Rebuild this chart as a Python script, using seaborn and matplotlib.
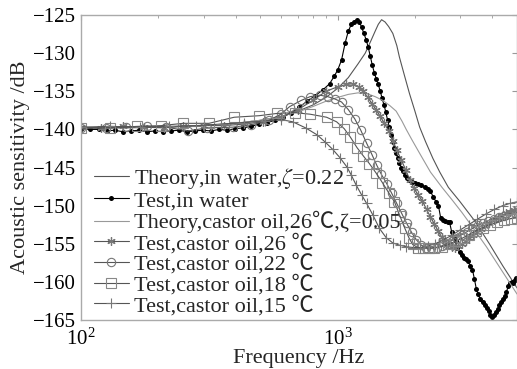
import numpy as np
import pandas as pd
import matplotlib
matplotlib.use("Agg")
import matplotlib.pyplot as plt
import seaborn as sns

# theory, in water
f_th_water = [100, 150, 200, 300, 400, 500, 600, 700, 800, 900, 1000, 1100, 1200, 1280,
              1350, 1400, 1440, 1483, 1530, 1580, 1640, 1700, 1740, 1820, 1905, 2000, 2087,
              2200, 2350, 2500, 2700, 2985, 3420, 3900, 4400, 5000]
db_th_water = [-139.8, -139.8, -139.7, -139.5, -139.2, -138.8, -138.3, -137.6, -136.8, -135.8,
               -134.6, -133.2, -131.4, -130.0, -128.3, -127.1, -126.2, -125.6, -125.9, -126.5,
               -127.4, -129.0, -130.5, -132.9, -135.3, -137.6, -139.7, -141.6, -143.8, -145.6,
               -147.6, -149.4, -152.0, -155.0, -157.9, -160.8]

# test, in water
f_te_water = [100, 108, 117, 126, 135, 145, 156, 168, 180, 194, 208, 224, 240, 258, 278, 298,
              320, 345, 370, 398, 428, 460, 495, 530, 570, 612, 658, 707, 760, 815, 876, 930,
              970, 1000, 1035, 1070, 1100, 1130, 1160, 1190, 1215, 1240, 1265, 1290, 1315,
              1340, 1365, 1390, 1415, 1440, 1465, 1490, 1515, 1540, 1565, 1590, 1615, 1640,
              1665, 1690, 1715, 1740, 1770, 1800, 1830, 1860, 1900, 1950, 2000, 2060, 2120,
              2180, 2240, 2300, 2360, 2420, 2470, 2520, 2570, 2620, 2680, 2730, 2780, 2830,
              2880, 2930, 2985, 3040, 3100, 3160, 3220, 3290, 3352, 3410, 3474, 3530, 3600,
              3670, 3740, 3810, 3880, 3940, 3990, 4060, 4130, 4200, 4270, 4340, 4410, 4480,
              4550, 4620, 4690, 4760, 4830, 4900, 4970]
db_te_water = [-139.9, -140.0, -140.0, -140.2, -140.1, -140.3, -140.2, -140.1, -140.3, -140.2,
               -140.3, -140.2, -140.1, -140.3, -140.2, -140.1, -140.2, -140.0, -140.1, -139.9,
               -139.8, -139.6, -139.3, -139.1, -138.8, -138.4, -137.8, -137.1, -136.3, -135.6,
               -134.8, -134.0, -133.0, -132.2, -130.9, -128.6, -127.1, -126.2, -125.9, -125.7,
               -125.9, -126.6, -127.4, -128.2, -129.2, -130.4, -131.6, -132.6, -133.4, -134.1,
               -135.0, -135.9, -136.8, -137.7, -138.8, -139.7, -140.7, -141.6, -142.4, -143.1,
               -143.8, -144.4, -145.0, -145.5, -146.0, -146.4, -146.7, -146.9, -147.0, -147.1,
               -147.3, -147.5, -147.8, -148.1, -148.9, -149.5, -150.0, -151.6, -151.9, -152.0,
               -152.1, -152.2, -153.4, -154.1, -154.6, -155.5, -156.1, -156.5, -156.9, -157.0,
               -157.3, -157.9, -158.4, -159.6, -161.0, -161.6, -162.3, -162.7, -163.0, -163.4,
               -163.8, -164.3, -164.6, -164.4, -164.0, -163.6, -163.1, -162.7, -162.3, -161.9,
               -161.3, -160.6, -160.1, -160.0, -160.1, -159.8, -159.5]

# theory, castor oil 26 C
f_th_oil = [100, 200, 300, 400, 500, 600, 700, 800, 900, 1000, 1100, 1200, 1300, 1400, 1500,
            1600, 1690, 1780, 1850, 1950, 2100, 2300, 2550, 2800, 3050, 3352, 3800, 4300, 5000]
db_th_oil = [-139.8, -139.7, -139.5, -139.2, -138.8, -138.3, -137.7, -137.0, -136.3, -135.8,
             -135.4, -135.2, -135.3, -135.7, -136.2, -136.9, -137.6, -138.9, -140.0, -141.4,
             -143.3, -145.6, -147.6, -149.3, -150.9, -152.8, -155.4, -158.2, -161.6]

# test, castor oil 26 C
f_oil26 = [100, 120, 145, 175, 210, 250, 300, 360, 430, 510, 600, 700, 800, 900, 1000, 1080,
           1150, 1210, 1260, 1310, 1360, 1410, 1460, 1520, 1580, 1640, 1700, 1770, 1840, 1910,
           1980, 2060, 2140, 2220, 2300, 2380, 2460, 2540, 2620, 2700, 2780, 2860, 2950, 3050,
           3150, 3260, 3380, 3500, 3630, 3760, 3900, 4050, 4200, 4360, 4530, 4700, 4870, 5000]
db_oil26 = [-139.7, -139.8, -139.6, -139.7, -139.8, -139.6, -139.5, -139.5, -139.3, -139.0,
            -138.4, -137.4, -136.2, -135.0, -134.4, -134.1, -134.0, -134.4, -135.0, -135.8,
            -136.6, -137.4, -138.2, -139.2, -140.2, -141.5, -142.7, -144.0, -145.3, -146.6,
            -147.7, -148.6, -149.4, -150.5, -151.5, -152.4, -153.3, -154.1, -154.7, -155.1,
            -155.4, -155.5, -155.3, -155.0, -154.7, -154.3, -153.9, -153.5, -153.1, -152.7,
            -152.3, -151.9, -151.6, -151.3, -151.0, -150.8, -150.6, -150.5]

# test, castor oil 22 C
f_oil22 = [100, 125, 150, 180, 215, 260, 310, 390, 460, 540, 600, 650, 720, 780, 850, 915,
           975, 1035, 1100, 1165, 1230, 1296, 1360, 1420, 1480, 1552, 1625, 1698, 1775, 1855,
           1940, 2028, 2120, 2218, 2320, 2430, 2540, 2660, 2780, 2910, 3050, 3200, 3350, 3510,
           3680, 3860, 4050, 4250, 4460, 4680, 4900, 5000]
db_oil22 = [-139.8, -139.8, -139.7, -139.6, -139.7, -140.2, -139.8, -139.7, -139.4, -138.8,
            -138.0, -137.0, -136.2, -135.7, -135.5, -135.7, -136.0, -136.4, -137.4, -138.6,
            -140.1, -141.8, -143.3, -144.7, -145.9, -147.1, -148.4, -149.7, -151.0, -152.3,
            -153.5, -154.5, -155.2, -155.5, -155.6, -155.5, -155.3, -155.0, -154.6, -154.2,
            -153.8, -153.4, -153.0, -152.6, -152.3, -152.0, -151.7, -151.5, -151.3, -151.1,
            -151.0, -150.9]

# test, castor oil 18 C
f_oil18 = [100, 130, 165, 205, 250, 315, 395, 494, 580, 680, 780, 905, 990, 1060, 1120, 1190,
           1260, 1330, 1410, 1495, 1580, 1665, 1745, 1823, 1900, 1960, 2050, 2150, 2260, 2380,
           2540, 2700, 2870, 3050, 3250, 3460, 3680, 3920, 4170, 4440, 4720, 5000]
db_oil18 = [-139.8, -139.8, -139.6, -139.5, -139.2, -139.2, -138.4, -138.2, -137.9, -137.8,
            -138.0, -138.4, -139.0, -139.9, -141.0, -142.4, -143.5, -144.5, -145.7, -147.0,
            -148.3, -149.5, -151.3, -152.9, -154.3, -155.1, -155.5, -155.6, -155.6, -155.5,
            -155.4, -155.1, -154.7, -154.3, -153.8, -153.3, -152.9, -152.5, -152.2, -151.9,
            -151.7, -151.6]

# test, castor oil 15 C
f_oil15 = [100, 130, 170, 220, 280, 350, 430, 520, 600, 668, 750, 830, 890, 955, 1020, 1085,
           1130, 1180, 1240, 1296, 1370, 1455, 1545, 1640, 1745, 1850, 1970, 2100, 2240, 2400,
           2580, 2780, 3000, 3240, 3500, 3780, 4080, 4400, 4700, 5000]
db_oil15 = [-139.7, -139.6, -139.7, -139.6, -139.5, -139.3, -139.1, -138.9, -138.7, -139.0,
            -139.8, -140.7, -141.6, -142.6, -143.7, -144.9, -146.0, -147.3, -148.6, -149.7,
            -151.2, -153.0, -154.2, -154.9, -155.2, -155.4, -155.5, -155.5, -155.3, -155.0,
            -154.5, -153.9, -153.2, -152.5, -151.8, -151.1, -150.5, -150.0, -149.7, -149.5]

labels = ["Theory,in water,$\\zeta$=0.22",
          "Test,in water",
          "Theory,castor oil,26\u2103,\u03b6=0.05",
          "Test,castor oil,26 \u2103",
          "Test,castor oil,22 \u2103",
          "Test,castor oil,18 \u2103",
          "Test,castor oil,15 \u2103"]

sns.set_style("white")
plt.rcParams['font.family'] = ['Liberation Serif', 'Noto Sans CJK SC', 'DejaVu Sans']
plt.rcParams['mathtext.fontset'] = 'stix'

fig = plt.figure(figsize=(5.17, 3.69), dpi=100)
ax = fig.add_axes([0.157, 0.133, 0.843, 0.826])

series = [
    (f_th_water, db_th_water, dict(color='#555555', lw=0.8)),
    (f_te_water, db_te_water, dict(color='black', lw=0.8, marker='o', markersize=3.6,
                                   markeredgewidth=0)),
    (f_th_oil, db_th_oil, dict(color='#999999', lw=0.8)),
    (f_oil26, db_oil26, dict(color='#555555', lw=0.8, marker=(6, 2, 0), markersize=6,
                             markeredgecolor='#777777', markeredgewidth=0.9)),
    (f_oil22, db_oil22, dict(color='#555555', lw=0.8, marker='o', markersize=6,
                             markerfacecolor='none', markeredgecolor='#777777',
                             markeredgewidth=0.8)),
    (f_oil18, db_oil18, dict(color='#555555', lw=0.8, marker='s', markersize=6.5,
                             markerfacecolor='none', markeredgecolor='#888888',
                             markeredgewidth=0.8)),
    (f_oil15, db_oil15, dict(color='#555555', lw=0.8, marker='+', markersize=7,
                             markeredgecolor='#777777', markeredgewidth=0.8)),
]

for (f, d, kw), lab in zip(series, labels):
    sns.lineplot(x=f, y=d, ax=ax, label=lab, sort=False, estimator=None, **kw)

ax.set_xscale('log')
ax.set_xlim(100, 5000)
ax.set_ylim(-165, -125)
ax.set_yticks(np.arange(-165, -124, 5))

for s in ax.spines.values():
    s.set_color('#aaaaaa')
    s.set_linewidth(1.0)
ax.tick_params(which='both', direction='in', top=True, right=True, color='#999999',
               labelsize=15, labelcolor='black')
ax.tick_params(which='major', length=3.5)
ax.tick_params(which='minor', length=2)
ax.tick_params(axis='x', pad=6)

ax.set_xlabel("Frequency /Hz", fontsize=16, labelpad=0)
ax.set_ylabel("Acoustic sensitivity /dB", fontsize=16, labelpad=2)

leg = ax.legend(loc='lower left', bbox_to_anchor=(0.03, 0.012), frameon=False,
                fontsize=16, borderaxespad=0, borderpad=0, handlelength=1.55,
                handletextpad=0.25, labelspacing=0.0)

fig.savefig("out.png", dpi=100)
